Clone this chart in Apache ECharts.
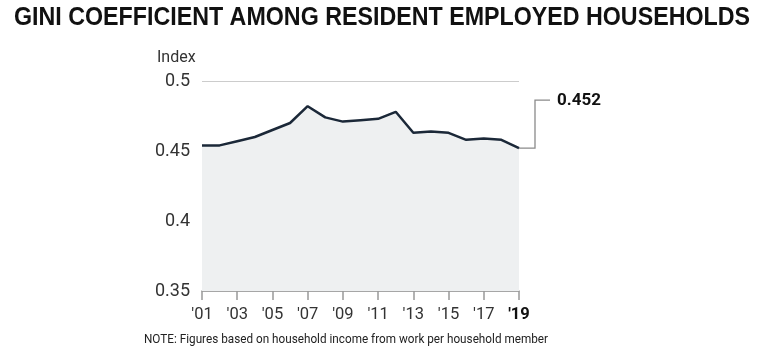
<!DOCTYPE html>
<html><head><meta charset="utf-8">
<script src="https://cdn.jsdelivr.net/npm/echarts@6/dist/echarts.min.js"></script>
<style>html,body{margin:0;padding:0;background:#fff}#c{width:768px;height:354px}</style>
</head><body><div id="c"></div>
<script>
const years = ['2001','2002','2003','2004','2005','2006','2007','2008','2009','2010','2011','2012','2013','2014','2015','2016','2017','2018','2019'];
const tickLabels = ["'01","'03","'05","'07","'09","'11","'13","'15","'17","'19"];
const gini = [0.454,0.454,0.457,0.460,0.465,0.470,0.482,0.474,0.471,0.472,0.473,0.478,0.463,0.464,0.463,0.458,0.459,0.458,0.452];
const yTicks = [0.35,0.4,0.45,0.5];
const titleText = 'GINI COEFFICIENT AMONG RESIDENT EMPLOYED HOUSEHOLDS';
const noteText = 'NOTE: Figures based on household income from work per household member';

function measure(txt, font){const c=document.createElement('canvas').getContext('2d');c.font=font;return c.measureText(txt).width;}
const titleFont = 'bold 25px "Liberation Sans"';
const titleScale = 736 / measure(titleText, titleFont);
const noteFont = '13px Roboto';
const noteScale = 404 / measure(noteText, noteFont);

const chart = echarts.init(document.getElementById('c'));
const labelMap = {};
years.forEach((y,i)=>{ if(i%2===0) labelMap[y] = tickLabels[i/2]; });
chart.setOption({
  animation:false,
  backgroundColor:'#fff',
  title:[{
    text:'Index', left:152, top:45,
    textStyle:{fontFamily:'Roboto',fontWeight:'normal',fontSize:16,color:'#333'}
  }],
  grid:{left:202,right:249,top:81,bottom:63},
  xAxis:{
    type:'category', data:years, boundaryGap:false,
    axisLine:{lineStyle:{color:'#999',width:1.5}},
    axisTick:{interval:1,length:9,lineStyle:{color:'#999',width:1.5},alignWithLabel:true},
    axisLabel:{interval:1,margin:15,fontFamily:'Roboto',fontSize:16.5,color:'#333',
      formatter:(v)=>{const l=labelMap[v]||'';return v===years[years.length-1]?'{b|'+l+'}':l;},
      rich:{b:{fontWeight:'bold',fontSize:16.5,color:'#111',fontFamily:'Roboto'}}
    }
  },
  yAxis:{
    type:'value', min:0.35, max:0.5, interval:0.05,
    axisLine:{show:false}, axisTick:{show:false},
    axisLabel:{margin:12,fontFamily:'Roboto',fontSize:18,color:'#333',
      formatter:(v)=>{const t=yTicks.find(x=>Math.abs(x-v)<1e-9);return t===undefined?'':String(t);}},
    splitLine:{lineStyle:{color:'#ccc',width:1}}
  },
  series:[{
    type:'line', data:gini, symbol:'none',
    lineStyle:{color:'#1b2838',width:2.5},
    areaStyle:{color:'#eef0f1',opacity:1}
  }]
});

const last = gini.length-1;
const p = chart.convertToPixel({xAxisIndex:0,yAxisIndex:0},[last,gini[last]]);
const topY = p[1]-48;
chart.setOption({graphic:[{
  type:'text', x:14, y:18, scaleX:titleScale,
  style:{text:titleText,font:titleFont,fill:'#111',textVerticalAlign:'middle'}
},{
  type:'text', x:144, y:340, scaleX:noteScale,
  style:{text:noteText,font:noteFont,fill:'#222',textVerticalAlign:'middle'}
},{
  type:'polyline', shape:{points:[[p[0],p[1]],[p[0]+16,p[1]],[p[0]+16,topY],[p[0]+31,topY]]},
  style:{stroke:'#8a8a8a',lineWidth:1.3,fill:null}
},{
  type:'text', x:p[0]+38, y:topY+1,
  style:{text:gini[last].toFixed(3),font:'bold 17px Roboto',fill:'#111',textVerticalAlign:'middle'}
}]});
</script></body></html>
